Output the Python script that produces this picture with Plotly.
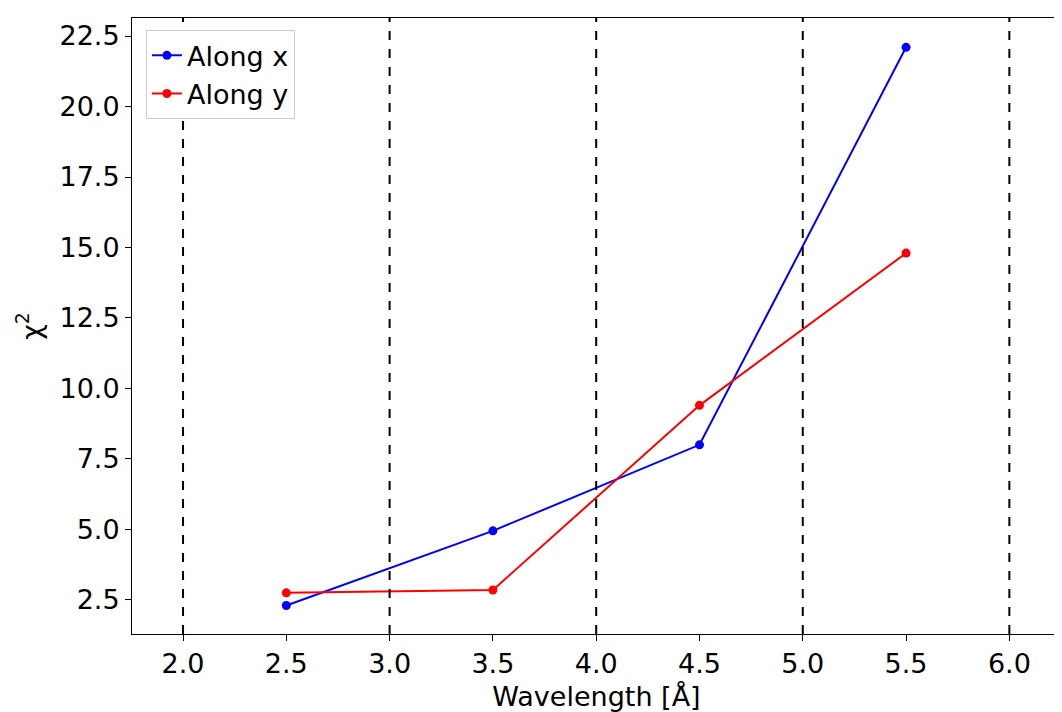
import plotly.graph_objects as go

wavelength = [2.5, 3.5, 4.5, 5.5]
chi2_x = [2.3, 4.95, 8.0, 22.1]
chi2_y = [2.75, 2.85, 9.4, 14.8]
vlines = [2.0, 3.0, 4.0, 5.0, 6.0]

fig = go.Figure()
fig.add_trace(go.Scatter(x=wavelength, y=chi2_x, mode="lines+markers", name="Along x",
                         line=dict(color="blue", width=2), marker=dict(size=9, color="blue")))
fig.add_trace(go.Scatter(x=wavelength, y=chi2_y, mode="lines+markers", name="Along y",
                         line=dict(color="red", width=2), marker=dict(size=9, color="red")))
for v in vlines:
    fig.add_vline(x=v, line=dict(color="black", width=2, dash="dash"))

axis = dict(showgrid=False, zeroline=False, showline=True, linecolor="black", mirror=True,
            ticks="outside", ticklen=6, tickcolor="black", automargin=False,
            tickfont=dict(size=27, color="black"))
fig.update_layout(
    width=1062, height=712, plot_bgcolor="white", paper_bgcolor="white",
    margin=dict(l=124, r=9, t=10, b=86),
    font=dict(family="DejaVu Sans", size=27, color="black"),
    xaxis=dict(axis, range=[1.753, 6.25], tickvals=[2, 2.5, 3, 3.5, 4, 4.5, 5, 5.5, 6],
               ticktext=["2.0", "2.5", "3.0", "3.5", "4.0", "4.5", "5.0", "5.5", "6.0"],
               title=dict(text="Wavelength [Å]", font=dict(size=27), standoff=8)),
    yaxis=dict(axis, range=[1.29, 23.14], tickvals=[2.5, 5, 7.5, 10, 12.5, 15, 17.5, 20, 22.5],
               ticktext=["2.5", "5.0", "7.5", "10.0", "12.5", "15.0", "17.5", "20.0", "22.5"],
               title=dict(text="χ<sup>2</sup>", font=dict(size=27), standoff=10)),
    legend=dict(x=0.015, y=0.98, xanchor="left", yanchor="top", bgcolor="white",
                bordercolor="#cccccc", borderwidth=1, font=dict(size=27)),
)
fig.write_html("out.html")
